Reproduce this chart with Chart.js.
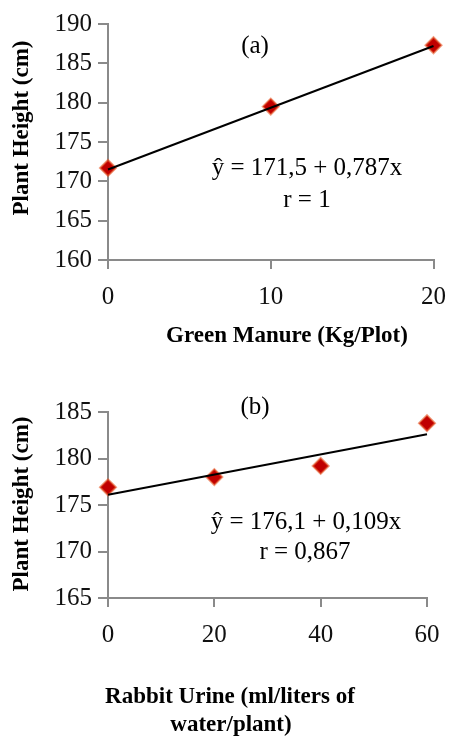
<!DOCTYPE html>
<html>
<head>
<meta charset="utf-8">
<script src="https://cdn.jsdelivr.net/npm/chart.js@4/dist/chart.umd.min.js"></script>
<style>
  html, body { margin: 0; padding: 0; background: #fff; }
  body { width: 459px; height: 736px; position: relative; overflow: hidden; }
  .panel { position: absolute; left: 0; width: 459px; }
  #panelA { top: 0; height: 350px; }
  #panelB { top: 350px; height: 386px; }
</style>
</head>
<body>
<div class="panel" id="panelA"><canvas id="chartA"></canvas></div>
<div class="panel" id="panelB"><canvas id="chartB"></canvas></div>
<script>
// (a) green manure
const manureDose = [0, 10, 20];
const manureHeight = [171.7, 179.5, 187.3];
const manureFitX = [0, 20];
const manureFitY = [171.5, 187.2];
const manureTicksY = [160, 190, 5];
const manureTicksX = [0, 20, 10];

// (b) rabbit urine
const urineDose = [0, 20, 40, 60];
const urineHeight = [176.9, 178.0, 179.2, 183.8];
const urineFitX = [0, 60];
const urineFitY = [176.1, 182.6];
const urineTicksY = [165, 185, 5];
const urineTicksX = [0, 60, 20];

const serif = '"Liberation Serif", "Times New Roman", serif';
const axisGray = '#8a8a8a';

// free text (titles, equations) drawn on top of the canvas
const textPlugin = {
    id: 'freeText',
    afterDraw(chart, args, opts) {
        const ctx = chart.ctx;
        (opts.items || []).forEach(item => {
            ctx.save();
            ctx.font = item.font;
            ctx.fillStyle = '#000';
            ctx.textAlign = 'center';
            ctx.textBaseline = 'middle';
            ctx.translate(item.x, item.y);
            if (item.rotate) ctx.rotate(-Math.PI / 2);
            ctx.fillText(item.text, 0, 0);
            ctx.restore();
        });
    }
};

function toPoints(xs, ys) {
    return xs.map((x, i) => ({ x: x, y: ys[i] }));
}

function makeChart(id, cfg) {
    const ctx = document.getElementById(id).getContext('2d');
    return new Chart(ctx, {
        type: 'scatter',
        data: {
            datasets: [
                {
                    data: toPoints(cfg.fitX, cfg.fitY),
                    showLine: true,
                    borderColor: '#000',
                    borderWidth: 2,
                    pointRadius: 0,
                    clip: false,
                    order: 0
                },
                {
                    data: toPoints(cfg.xs, cfg.ys),
                    pointStyle: 'rectRot',
                    pointRadius: 8,
                    pointBackgroundColor: '#c00000',
                    pointBorderColor: 'rgba(230, 90, 40, 0.6)',
                    pointBorderWidth: 2,
                    clip: false,
                    order: 1
                }
            ]
        },
        options: {
            responsive: true,
            maintainAspectRatio: false,
            animation: false,
            layout: { padding: cfg.padding },
            plugins: {
                legend: { display: false },
                tooltip: { enabled: false },
                freeText: { items: cfg.texts }
            },
            scales: {
                x: {
                    type: 'linear',
                    min: cfg.ticksX[0],
                    max: cfg.ticksX[1],
                    ticks: {
                        stepSize: cfg.ticksX[2],
                        color: '#111',
                        padding: 13,
                        font: { family: serif, size: 25 }
                    },
                    grid: { drawOnChartArea: false, tickLength: 9, color: axisGray, lineWidth: 2 },
                    border: { color: axisGray, width: 2 },
                    afterFit: scale => { scale.height = cfg.xHeight; }
                },
                y: {
                    min: cfg.ticksY[0],
                    max: cfg.ticksY[1],
                    ticks: {
                        stepSize: cfg.ticksY[2],
                        color: '#111',
                        padding: 6,
                        font: { family: serif, size: 25 }
                    },
                    grid: { drawOnChartArea: false, tickLength: 10, color: axisGray, lineWidth: 2 },
                    border: { color: axisGray, width: 2 },
                    afterFit: scale => { scale.width = 108; }
                }
            }
        },
        plugins: [textPlugin]
    });
}

const bold = 'bold 23px ' + serif;
const plain = '25px ' + serif;

makeChart('chartA', {
    xs: manureDose, ys: manureHeight, fitX: manureFitX, fitY: manureFitY,
    ticksX: manureTicksX, ticksY: manureTicksY,
    padding: { left: 0, right: 14, top: 24, bottom: 0 },
    xHeight: 90,
    texts: [
        { text: '(a)', x: 255, y: 46, font: plain },
        { text: 'ŷ = 171,5 + 0,787x', x: 307, y: 168, font: plain },
        { text: 'r = 1', x: 307, y: 200, font: plain },
        { text: 'Plant Height (cm)', x: 22, y: 128, font: bold, rotate: true },
        { text: 'Green Manure (Kg/Plot)', x: 287, y: 336, font: bold }
    ]
});

makeChart('chartB', {
    xs: urineDose, ys: urineHeight, fitX: urineFitX, fitY: urineFitY,
    ticksX: urineTicksX, ticksY: urineTicksY,
    padding: { left: 0, right: 32, top: 62, bottom: 0 },
    xHeight: 138,
    texts: [
        { text: '(b)', x: 255, y: 57, font: plain },
        { text: 'ŷ = 176,1 + 0,109x', x: 306, y: 172, font: plain },
        { text: 'r = 0,867', x: 305, y: 202, font: plain },
        { text: 'Plant Height (cm)', x: 22, y: 154, font: bold, rotate: true },
        { text: 'Rabbit Urine (ml/liters of', x: 230, y: 347, font: bold },
        { text: 'water/plant)', x: 231, y: 375, font: bold }
    ]
});
</script>
</body>
</html>
